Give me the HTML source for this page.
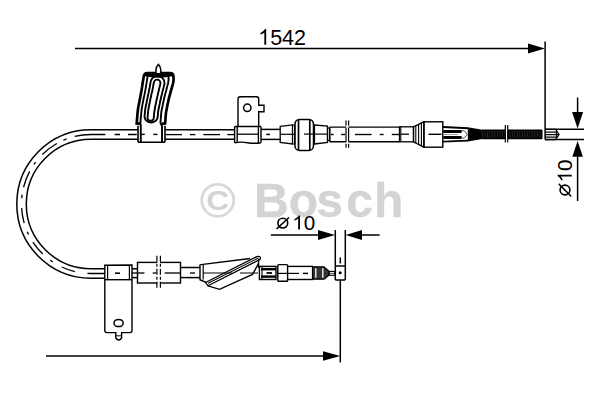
<!DOCTYPE html>
<html><head><meta charset="utf-8">
<style>
html,body{margin:0;padding:0;background:#fff;width:600px;height:400px;overflow:hidden}
svg{display:block}
text{font-family:"Liberation Sans",sans-serif}
</style></head>
<body>
<svg width="600" height="400" viewBox="0 0 600 400">
<!-- watermark -->
<g fill="#d4d4d4" font-weight="bold">
<circle cx="217.7" cy="200.3" r="16" fill="none" stroke="#d8d8d8" stroke-width="2.7"/>
<text transform="translate(206.3,209.6) scale(1.17,1)" font-size="27">C</text>
<g font-size="48" transform="translate(0,217) scale(1,1.02)" stroke="#d4d4d4" stroke-width="0.4">
<text x="253.9" y="0">B</text><text x="288.8" y="0">o</text><text x="316.3" y="0">s</text><text x="346.3" y="0">c</text><text x="374" y="0">h</text>
</g>
</g>

<g stroke="#000" stroke-width="1.5" fill="none">
<!-- top dimension 1542 -->
<line x1="75" y1="48.5" x2="530" y2="48.5"/>
<line x1="545.1" y1="41.5" x2="545.1" y2="139.5"/>
<!-- lower dimension -->
<line x1="46" y1="356" x2="325" y2="356"/>
<line x1="340.3" y1="257.5" x2="340.3" y2="263.5"/>
<line x1="340.3" y1="280" x2="340.3" y2="362.5"/>
<!-- ø10 upper right -->
<line x1="545" y1="129.3" x2="584" y2="129.3"/>
<line x1="545" y1="139.6" x2="584" y2="139.6"/>
<line x1="577.6" y1="97.5" x2="577.6" y2="114"/>
<line x1="577.6" y1="156" x2="577.6" y2="201"/>
<!-- ø10 lower -->
<line x1="270.8" y1="235" x2="320" y2="235"/>
<line x1="360" y1="235" x2="379.6" y2="235"/>
<line x1="335.3" y1="230" x2="335.3" y2="280"/>
<line x1="345.3" y1="230" x2="345.3" y2="280"/>
<line x1="335.3" y1="266" x2="345.3" y2="266"/>
<line x1="335.3" y1="280" x2="345.3" y2="280"/>

<!-- cable main loop -->
<path d="M138 129.8 H91 A74.2 74.2 0 0 0 91 278.2 H105"/>
<path d="M138 139.3 H91 A64.7 64.7 0 0 0 91 268.7 H105"/>
<path d="M137 134.5 H91 A69.5 69.5 0 0 0 91 273.5 H105" stroke-width="1.3" stroke-dasharray="0 0.3 8.7 8.0 5.3 9.4 30.8 8.5 3.5 7.2 18.2 10.1 3.0 8.0 17.0 7.5 3.5 10.2 15.2 9.1 3.0 8.8 15.5 9.7 3.0 10.2 13.9 12.7 17.5 50"/>
<!-- upper cable segment between brackets -->
<line x1="165" y1="129.75" x2="235" y2="129.75"/>
<line x1="165" y1="139.35" x2="235" y2="139.35"/>
<line x1="166" y1="134.6" x2="182" y2="134.6" stroke-width="1.3"/>
<line x1="190" y1="134.6" x2="195.3" y2="134.6" stroke-width="1.3"/>
<line x1="203.3" y1="134.6" x2="220" y2="134.6" stroke-width="1.3"/>
<line x1="227.3" y1="134.6" x2="234" y2="134.6" stroke-width="1.3"/>
<line x1="261" y1="129.4" x2="280.5" y2="129.4"/>
<line x1="261" y1="139.4" x2="280.5" y2="139.4"/>
<line x1="266.3" y1="134.4" x2="270" y2="134.4" stroke-width="1.5"/>

<!-- top-left wavy bracket -->
<path d="M140.8,123.6 L136.7,123.5 L137.0,119.8 L137.3,116.2 L137.6,112.5 L138.0,108.9 L138.7,105.2 L139.4,101.6 L140.1,97.9 L140.8,94.3 L141.5,90.6 L142.1,87.0 L142.6,83.3 L143.2,79.7 L143.8,76.0 Q144.5,73.0 147.2,73.0 L170.3,73.0 Q173.0,73.0 173.4,76.0 L173.6,79.7 L173.1,83.3 L172.0,87.0 L171.0,90.6 L170.0,94.3 L169.0,97.9 L168.2,101.6 L167.4,105.2 L166.7,108.9 L166.0,112.5 L165.7,116.2 L165.4,119.8 L165.1,123.5 L162,123.6" stroke-width="2.7"/>
<path d="M147.6,76.0 L147.1,79.6 L146.5,83.2 L145.9,86.8 L145.3,90.5 L144.6,94.1 L143.8,97.7 L143.1,101.3 L142.4,104.9 L141.8,108.5 L141.3,112.2 L141.0,115.8 L140.7,119.4 L140.4,123.0 L140.8,126 L140.8,142.3" stroke-width="1.9"/>
<path d="M168.5,76.0 L168.6,79.6 L168.1,83.2 L167.1,86.8 L166.2,90.5 L165.2,94.1 L164.3,97.7 L163.5,101.3 L162.8,104.9 L162.0,108.5 L161.3,112.2 L161.0,115.8 L160.7,119.4 L160.5,123.0 L162,126 L162,142.3" stroke-width="1.9"/>
<path d="M150.4,83.2 L150.0,85.5 L149.6,87.7 L149.1,90.0 L148.7,92.2 L148.2,94.5 L147.7,96.7 L147.3,99.0 L146.8,101.2 L146.4,103.5 L145.9,105.7 L145.5,108.0 L145.1,110.2 L144.9,112.5 L144.7,114.7 L144.5,117.0 A6.7,6.7 0 0 0 157.7,117.0 L157.9,114.7 L158.0,112.5 L158.4,110.2 L158.8,108.0 L159.3,105.7 L159.8,103.5 L160.2,101.2 L160.7,99.0 L161.2,96.7 L161.8,94.5 L162.3,92.2 L162.9,90.0 L163.5,87.7 L164.0,85.5 L164.6,83.2 A6.7,6.7 0 0 0 150.4,83.2Z" stroke-width="1.9"/>
<path d="M153.8,83.0 L153.3,85.3 L152.9,87.7 L152.4,90.1 L151.9,92.4 L151.3,94.8 L150.8,97.2 L150.3,99.5 L149.9,101.9 L149.4,104.2 L148.9,106.6 L148.5,109.0 L148.1,111.3 L147.9,113.7 L147.7,116.1 L147.5,118.4 A3.2,3.2 0 0 0 153.7,118.4 L153.9,116.1 L154.1,113.7 L154.4,111.3 L154.8,109.0 L155.2,106.6 L155.7,104.2 L156.2,101.9 L156.7,99.5 L157.2,97.2 L157.8,94.8 L158.3,92.4 L158.9,90.1 L159.4,87.7 L160.0,85.3 L160.5,83.0 A3.2,3.2 0 0 0 153.8,83.0Z" stroke-width="1.9"/>
<path d="M144.2,73 L172.8,73 L173.4,76 Q158.5,79.5 143.8,76 Z" fill="#000" stroke="none"/>

<path d="M156,73 L156,69.5 Q156,66.8 158.3,64.4 Q160.8,66.8 160.8,69.5 L160.8,73" stroke-width="1.5" fill="#fff"/>
<!-- clip band under bracket -->
<path d="M138,125.8 V142.3 M165,125.8 V142.3 M138,142.3 H165" stroke-width="1.6"/>
<line x1="141.4" y1="134.4" x2="144.8" y2="134.4" stroke-width="1.4"/>
<line x1="153.3" y1="134.4" x2="157.5" y2="134.4" stroke-width="1.4"/>

<!-- small bracket -->
<path d="M238,127 V99 Q238,96.8 240.2,96.8 H256.5 Q258.7,96.8 258.7,99 V105.3 H264 V111.8 H258.7 V127" stroke-width="1.4"/>
<circle cx="247.3" cy="107.8" r="3.7" stroke-width="1.5"/>
<path d="M234.6,126.5 H261 M234.6,126.5 V142.7 M237.2,126.5 V142.7 M258.4,126.5 V142.7 M261,126.5 V142.7 M234.6,142.7 Q241,141.5 247.5,142.7 Q254,143.8 261,142.7" stroke-width="1.4"/>
<line x1="237.4" y1="134.2" x2="258" y2="134.2" stroke-width="1.3"/>

<!-- grommet -->
<path d="M280.2,126.4 L292.5,124.9 L292.5,144 L280.2,142.5 Z" stroke-width="1.3"/>
<line x1="280.2" y1="134.3" x2="295" y2="134.3" stroke-width="1.2"/>
<path d="M292.5,125 H294.8 V144 H292.5" stroke-width="1.2"/>
<rect x="294.9" y="119.4" width="18.6" height="31" rx="4.5" ry="5" stroke-width="1.5"/>
<line x1="298.5" y1="119.8" x2="298.5" y2="150" stroke-width="1.7"/>
<line x1="309.8" y1="119.8" x2="309.8" y2="150" stroke-width="1.7"/>
<path d="M314,125 H314.5 L327.5,126 L327.5,142.5 L314.5,144 H314" stroke-width="1.3"/>
<line x1="314.5" y1="125" x2="314.5" y2="144" stroke-width="1.2"/>
<rect x="327.5" y="128" width="2.2" height="12.5" stroke-width="1.2"/>
<line x1="304" y1="134.1" x2="327.5" y2="134.1" stroke-width="1.2"/>

<!-- tube with break -->
<line x1="329.8" y1="127.1" x2="399.5" y2="127.1" stroke-width="1.4"/>
<line x1="329.8" y1="141.8" x2="399.5" y2="141.8" stroke-width="1.4"/>
<line x1="329.8" y1="127.1" x2="329.8" y2="141.8" stroke-width="1.2"/>
<line x1="331" y1="134.5" x2="333.6" y2="134.5" stroke-width="1.4"/>
<line x1="341.2" y1="134.5" x2="345" y2="134.5" stroke-width="1.4"/>
<line x1="355" y1="134.5" x2="371.6" y2="134.5" stroke-width="1.4"/>
<line x1="379.8" y1="134.5" x2="383.6" y2="134.5" stroke-width="1.4"/>
<line x1="391.8" y1="134.5" x2="399.4" y2="134.5" stroke-width="1.4"/>
<rect x="346.4" y="120" width="2" height="28" fill="#fff" stroke="none"/>
<line x1="346" y1="120.5" x2="346" y2="147.7" stroke-width="1.2" stroke-dasharray="5 2.4 13.5 2.4 5"/>
<line x1="348.6" y1="120.5" x2="348.6" y2="147.7" stroke-width="1.2" stroke-dasharray="5 2.4 13.5 2.4 5"/>
<!-- collar, flare, block -->
<rect x="399.5" y="126.8" width="14" height="15" stroke-width="1.3"/>
<line x1="400.8" y1="126.8" x2="400.8" y2="141.8" stroke-width="1.1"/>
<line x1="400.8" y1="134.2" x2="409" y2="134.2" stroke-width="1.3"/>
<path d="M413.5,126.8 L423.8,121.8 L423.8,147.2 L413.5,141.8 Z" stroke-width="1.3"/>
<line x1="415.8" y1="125.7" x2="415.8" y2="143" stroke-width="1.1"/>
<line x1="418.6" y1="124.4" x2="418.6" y2="144.5" stroke-width="1.1"/>
<line x1="421.4" y1="123" x2="421.4" y2="146" stroke-width="1.1"/>
<rect x="424" y="121.8" width="18.8" height="25.4" stroke-width="1.4"/>
<line x1="428.5" y1="134.3" x2="441.5" y2="134.3" stroke-width="1.4"/>
<!-- fork -->
<path d="M443,127 L468,128.2 M443,141.6 L468,140.6" stroke-width="1.9"/>
<rect x="443" y="130" width="19" height="3" rx="1.4" fill="#000" stroke="none"/>
<rect x="443" y="136" width="19" height="3" rx="1.4" fill="#000" stroke="none"/>
<line x1="443" y1="134.5" x2="458" y2="134.5" stroke="#888" stroke-width="0.8"/>
<path d="M462,130.5 L464.5,131 L467.2,134.4 L464.5,137.8 L462,138.3" stroke-width="1" stroke="#555"/>
<!-- taper -->
<path d="M467.8,127.2 L481,129.4 L481,139.2 L467.8,141.6 Z" fill="#000" stroke="none"/>
<!-- spring -->
<rect x="481" y="129.4" width="61.5" height="9.8" rx="1" fill="#000" stroke="none"/>
<g stroke="#444" stroke-width="0.6">
<line x1="482.0" y1="131" x2="482.8" y2="137.6"/>
<line x1="484.5" y1="131" x2="485.3" y2="137.6"/>
<line x1="487.0" y1="131" x2="487.8" y2="137.6"/>
<line x1="489.5" y1="131" x2="490.3" y2="137.6"/>
<line x1="492.0" y1="131" x2="492.8" y2="137.6"/>
<line x1="494.5" y1="131" x2="495.3" y2="137.6"/>
<line x1="497.0" y1="131" x2="497.8" y2="137.6"/>
<line x1="499.5" y1="131" x2="500.3" y2="137.6"/>
<line x1="502.0" y1="131" x2="502.8" y2="137.6"/>
<line x1="504.5" y1="131" x2="505.3" y2="137.6"/>
<line x1="509.5" y1="131" x2="510.3" y2="137.6"/>
<line x1="512.0" y1="131" x2="512.8" y2="137.6"/>
<line x1="514.5" y1="131" x2="515.3" y2="137.6"/>
<line x1="517.0" y1="131" x2="517.8" y2="137.6"/>
<line x1="519.5" y1="131" x2="520.3" y2="137.6"/>
<line x1="522.0" y1="131" x2="522.8" y2="137.6"/>
<line x1="524.5" y1="131" x2="525.3" y2="137.6"/>
<line x1="527.0" y1="131" x2="527.8" y2="137.6"/>
<line x1="529.5" y1="131" x2="530.3" y2="137.6"/>
<line x1="532.0" y1="131" x2="532.8" y2="137.6"/>
<line x1="534.5" y1="131" x2="535.3" y2="137.6"/>
<line x1="537.0" y1="131" x2="537.8" y2="137.6"/>
<line x1="539.5" y1="131" x2="540.3" y2="137.6"/>
</g>
<rect x="505.8" y="128" width="2" height="12.5" fill="#fff" stroke="none"/>
<line x1="505.3" y1="125" x2="505.3" y2="142.6" stroke-width="1.2"/>
<line x1="507.7" y1="125" x2="507.7" y2="142.6" stroke-width="1.2"/>
<!-- end piece -->
<path d="M545,129.4 H556 M545,132.1 H556.4 M545,134.6 H558.5 M545,137.1 H556.4 M545,139.6 H556" stroke-width="1.3"/>
<path d="M555.8,129.5 L559,134.5 L555.8,139.5" stroke-width="1.3"/>
<line x1="556.4" y1="129.3" x2="556.4" y2="139.5" stroke-width="1"/>

<!-- lower bracket -->
<path d="M104.8,265.3 V330.5 Q104.8,332.6 107,332.6 H115.8 V338 Q118.7,342 121.6,338 V332.6 H129.8 Q132,332.6 132,330.5 V265 Z" stroke-width="1.4"/>
<line x1="107.6" y1="265" x2="107.6" y2="280" stroke-width="1.2"/>
<line x1="129.4" y1="265" x2="129.4" y2="280" stroke-width="1.2"/>
<line x1="104.8" y1="279.7" x2="132" y2="279.7" stroke-width="1.4"/>
<ellipse cx="118.6" cy="323" rx="4.6" ry="3.6" stroke-width="1.5"/>
<line x1="116" y1="335.8" x2="121.4" y2="335.8" stroke-width="1"/>
<line x1="115" y1="273.2" x2="120" y2="273.2" stroke-width="1.6"/>
<!-- cable between lower bracket and sleeve -->
<line x1="132" y1="268.8" x2="137.6" y2="268.8"/>
<line x1="132" y1="277.6" x2="137.6" y2="277.6"/>
<line x1="131.8" y1="273" x2="144.5" y2="273" stroke-width="1.3"/>
<!-- sleeve -->
<rect x="137.5" y="262.4" width="43" height="20.6" stroke-width="1.4"/>
<line x1="152.7" y1="273" x2="156.5" y2="273" stroke-width="1.3"/>
<line x1="164.7" y1="273" x2="180" y2="273" stroke-width="1.3"/>
<rect x="157.3" y="258" width="2.6" height="29" fill="#fff" stroke="none"/>
<line x1="156.9" y1="255.8" x2="156.9" y2="288.5" stroke-width="1.2" stroke-dasharray="6 2 3 2"/>
<line x1="160.4" y1="255.8" x2="160.4" y2="288.5" stroke-width="1.2" stroke-dasharray="6 2 3 2"/>
<!-- cable sleeve to clip -->
<line x1="180.5" y1="267.5" x2="200" y2="267.5"/>
<line x1="180.5" y1="277.6" x2="200" y2="277.6"/>
<line x1="190" y1="273" x2="195" y2="273" stroke-width="1.3"/>

<!-- angled clip -->
<path d="M200,265.5 Q199.5,265 201,264.6 L250,258.5 M200,265.5 V279.7 L207,282.8" stroke-width="1.4"/>
<line x1="203.2" y1="265" x2="203.2" y2="279.5" stroke-width="1.2"/>
<path d="M205.5,282.5 L257.5,256.3 Q261.5,256 260,259.5 L208,285.8 Z" stroke-width="1.3" fill="#fff"/>
<line x1="208" y1="283.3" x2="258.5" y2="258" stroke-width="1.1"/>
<path d="M208,285.8 L219.5,289.3 L252.5,274.5 L258.5,263.5" stroke-width="1.4"/>
<path d="M203.2,273 L232,273 M240,273 L258,273" stroke-width="1.1"/>
<line x1="258.6" y1="259" x2="258.6" y2="268" stroke-width="1.3"/>

<!-- coupling -->
<rect x="259.4" y="266.4" width="16.6" height="13.1" stroke-width="1.4"/>
<line x1="262" y1="266.4" x2="262" y2="279.5" stroke-width="1.1"/>
<rect x="261" y="268" width="15" height="2.4" fill="#000" stroke="none"/>
<rect x="261" y="275.4" width="15" height="2.4" fill="#000" stroke="none"/>
<line x1="266.5" y1="273" x2="272" y2="273" stroke-width="1.8"/>
<rect x="277.8" y="264.6" width="9.8" height="16.7" rx="0.8" stroke-width="1.4"/>
<line x1="277" y1="273.4" x2="299" y2="273.4" stroke-width="1.2"/>
<line x1="287.6" y1="266.4" x2="313" y2="266.4" stroke-width="1.4"/>
<line x1="287.6" y1="279.5" x2="313" y2="279.5" stroke-width="1.4"/>
<line x1="313" y1="266.4" x2="313" y2="279.5" stroke-width="1.4"/>
<line x1="303" y1="273.4" x2="308" y2="273.4" stroke-width="1.5"/>
<!-- knurl -->
<path d="M312.5,266.8 L324,266.8 L329,271.3 L329,275.3 L324,279.2 L312.5,279.2 Z" fill="#333" stroke="#000" stroke-width="1.2"/>
<line x1="315.8" y1="268.2" x2="315.8" y2="277.8" stroke="#fff" stroke-width="1.3"/>
<line x1="322.8" y1="268.2" x2="322.8" y2="277.8" stroke="#fff" stroke-width="1.3"/>
<rect x="329" y="271.4" width="5.8" height="3.9" stroke-width="1.1"/>
<line x1="329" y1="273.4" x2="334.8" y2="273.4" stroke-width="0.7"/>
<circle cx="340.2" cy="272.8" r="1.5" fill="#000" stroke="none"/>
</g>

<!-- arrows -->
<g fill="#000">
<path d="M545 48.5 L528 43.5 L528 53.5 Z"/>
<path d="M340.3 356 L323 351.3 L323 360.8 Z"/>
<path d="M577.6 128.4 L572.1 112 L583.1 112 Z"/>
<path d="M577.6 141 L572.3 156.8 L582.9 156.8 Z"/>
<path d="M335 235 L318 230 L318 240 Z"/>
<path d="M345.6 235 L362 230 L362 240 Z"/>
</g>

<!-- text -->
<g fill="#000">
<g transform="translate(258.2,44.7) scale(1,1.06)">
<path transform="scale(0.010498,-0.010047)" d="M763,0 L583,0 L583,1147 Q518,1085 412,1023 Q306,961 222,930 L222,1104 Q373,1175 486,1276 Q599,1377 646,1472 L763,1472 Z"/>
<text x="11.957" y="0" font-size="21.5">542</text>
</g>
<path transform="translate(292.3,229.6) scale(0.010059,-0.009627)" d="M763,0 L583,0 L583,1147 Q518,1085 412,1023 Q306,961 222,930 L222,1104 Q373,1175 486,1276 Q599,1377 646,1472 L763,1472 Z"/>
<text x="303.76" y="229.6" font-size="20.6">0</text>
<g transform="translate(571.8,199.5) rotate(-90)">
<path transform="translate(17.1,0) scale(0.010059,-0.009627)" d="M763,0 L583,0 L583,1147 Q518,1085 412,1023 Q306,961 222,930 L222,1104 Q373,1175 486,1276 Q599,1377 646,1472 L763,1472 Z"/>
<text x="28.56" y="0" font-size="20.6">0</text>
</g>
</g>
<g stroke="#000" fill="none" stroke-width="1.6">
<circle cx="282.8" cy="223.1" r="4.9"/>
<line x1="276.6" y1="228.9" x2="289" y2="217.5" stroke-width="1.5"/>
<circle cx="565" cy="190" r="4.9"/>
<line x1="558.7" y1="183.9" x2="571.3" y2="196.5" stroke-width="1.5"/>
</g>
</svg>
</body></html>
